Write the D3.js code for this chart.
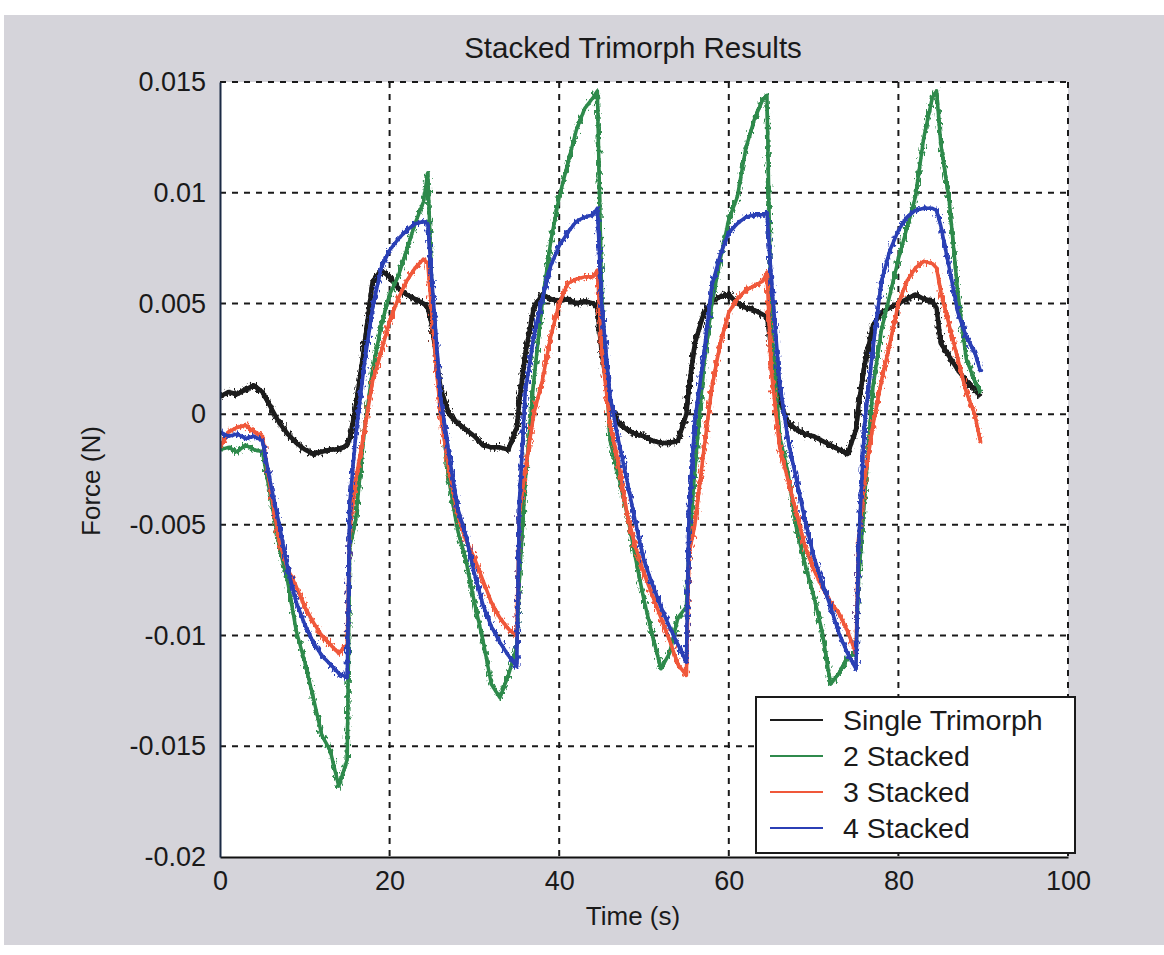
<!DOCTYPE html>
<html>
<head>
<meta charset="utf-8">
<script src="https://cdn.jsdelivr.net/npm/d3@7"></script>
<style>
  html, body { margin: 0; padding: 0; background: #ffffff; }
  svg { display: block; }
  text { font-family: "Liberation Sans", Arial, sans-serif; fill: #1a1a1a; }
</style>
</head>
<body>
<svg id="chart" width="1164" height="955"></svg>
<script>
// ---------------- data ----------------
const title = "Stacked Trimorph Results";
const xLabel = "Time (s)";
const yLabel = "Force (N)";
const xTicks = [0, 20, 40, 60, 80, 100];
const yTicks = [0.015, 0.01, 0.005, 0, -0.005, -0.01, -0.015, -0.02];
const yTickLabels = ["0.015", "0.01", "0.005", "0", "-0.005", "-0.01", "-0.015", "-0.02"];
const seriesNames = ["Single Trimorph", "2 Stacked", "3 Stacked", "4 Stacked"];

const times = [0,1,2,3,4,5,6,7,8,9,10,11,12,13,14,15,15.3,16,17,18,19,20,21,22,23,24,24.5,
  25,26,27,28,29,30,31,32,33,34,35,35.3,36,37,38,39,40,41,42,43,44,44.5,
  45,46,47,48,49,50,51,52,53,54,55,55.3,56,57,58,59,60,61,62,63,64,64.5,
  65,66,67,68,69,70,71,72,73,74,75,75.3,76,77,78,79,80,81,82,83,84,84.5,
  85,86,87,88,89,89.7];

const single = [0.0008,0.0010,0.0009,0.0011,0.0013,0.0010,0.0003,-0.0004,-0.0009,-0.0013,-0.0016,-0.0018,-0.0017,-0.0016,-0.0016,-0.0014,
  -0.0011,
  0.0003,0.0030,0.0060,0.0065,0.0062,0.0057,0.0054,0.0052,0.0050,
  0.0048,
  0.0040,0.0012,0.0000,-0.0004,-0.0007,-0.0010,-0.0014,-0.0015,-0.0015,-0.0016,-0.0006,
  0.0006,
  0.0027,0.0048,0.0054,0.0052,0.0051,0.0052,0.0050,0.0051,0.0050,
  0.0048,
  0.0028,0.0004,-0.0004,-0.0007,-0.0009,-0.0010,-0.0012,-0.0013,-0.0013,-0.0012,0.0000,
  0.0012,
  0.0032,0.0045,0.0051,0.0053,0.0054,0.0050,0.0048,0.0047,0.0045,
  0.0044,
  0.0030,0.0006,-0.0004,-0.0007,-0.0009,-0.0010,-0.0012,-0.0014,-0.0016,-0.0018,-0.0007,
  0.0004,
  0.0022,0.0040,0.0046,0.0048,0.0050,0.0052,0.0054,0.0052,0.0051,
  0.0048,
  0.0032,0.0026,0.0020,0.0015,0.0011,
  0.0008];

const stacked2 = [-0.0016,-0.0015,-0.0017,-0.0014,-0.0016,-0.0017,-0.0038,-0.0060,-0.0076,-0.0098,-0.0112,-0.0128,-0.0145,-0.0152,-0.0168,-0.0156,
  -0.0060,
  -0.0048,-0.0008,0.0020,0.0040,0.0054,0.0062,0.0074,0.0086,0.0096,
  0.0109,
  0.0055,0.0005,-0.0030,-0.0052,-0.0066,-0.0085,-0.0102,-0.0122,-0.0128,-0.0118,-0.0105,
  -0.0075,
  -0.0030,0.0015,0.0050,0.0078,0.0098,0.0113,0.0128,0.0138,0.0143,
  0.0146,
  0.0055,-0.0012,-0.0028,-0.0045,-0.0065,-0.0084,-0.0100,-0.0115,-0.0108,-0.0092,-0.0087,
  -0.0060,
  -0.0025,0.0020,0.0050,0.0070,0.0088,0.0098,0.0120,0.0133,0.0142,
  0.0144,
  0.0040,-0.0010,-0.0027,-0.0052,-0.0068,-0.0082,-0.0098,-0.0122,-0.0117,-0.0110,-0.0108,
  -0.0075,
  -0.0038,0.0012,0.0038,0.0054,0.0070,0.0084,0.0098,0.0125,0.0143,
  0.0146,
  0.0122,0.0096,0.0055,0.0025,0.0015,
  0.0010];

const stacked3 = [-0.0015,-0.0008,-0.0006,-0.0005,-0.0008,-0.0010,-0.0035,-0.0058,-0.0070,-0.0078,-0.0087,-0.0094,-0.0100,-0.0104,-0.0108,-0.0104,
  -0.0052,
  -0.0030,-0.0008,0.0015,0.0028,0.0042,0.0052,0.0060,0.0066,0.0070,
  0.0068,
  0.0045,0.0000,-0.0025,-0.0045,-0.0057,-0.0065,-0.0075,-0.0085,-0.0092,-0.0097,-0.0100,
  -0.0045,
  -0.0025,0.0000,0.0015,0.0035,0.0050,0.0059,0.0061,0.0062,0.0062,
  0.0065,
  0.0030,-0.0005,-0.0022,-0.0045,-0.0060,-0.0072,-0.0082,-0.0092,-0.0102,-0.0113,-0.0118,
  -0.0063,
  -0.0050,-0.0018,0.0012,0.0032,0.0046,0.0052,0.0056,0.0058,0.0060,
  0.0064,
  0.0020,-0.0015,-0.0030,-0.0045,-0.0060,-0.0070,-0.0078,-0.0085,-0.0090,-0.0098,-0.0108,
  -0.0057,
  -0.0030,-0.0005,0.0015,0.0032,0.0050,0.0060,0.0066,0.0069,0.0068,
  0.0066,
  0.0055,0.0040,0.0025,0.0010,0.0000,
  -0.0013];

const stacked4 = [-0.0008,-0.0010,-0.0009,-0.0011,-0.0010,-0.0012,-0.0032,-0.0050,-0.0070,-0.0085,-0.0095,-0.0103,-0.0109,-0.0113,-0.0117,-0.0119,
  -0.0040,
  -0.0010,0.0022,0.0048,0.0066,0.0074,0.0079,0.0083,0.0086,0.0087,
  0.0086,
  0.0060,0.0008,-0.0018,-0.0042,-0.0055,-0.0072,-0.0086,-0.0096,-0.0103,-0.0109,-0.0114,
  -0.0040,
  0.0010,0.0035,0.0052,0.0067,0.0076,0.0082,0.0087,0.0089,0.0090,
  0.0093,
  0.0050,0.0008,-0.0012,-0.0030,-0.0049,-0.0066,-0.0077,-0.0087,-0.0096,-0.0104,-0.0112,
  -0.0045,
  -0.0003,0.0025,0.0058,0.0072,0.0082,0.0086,0.0089,0.0090,0.0090,
  0.0091,
  0.0062,0.0014,-0.0012,-0.0030,-0.0048,-0.0064,-0.0076,-0.0087,-0.0099,-0.0108,-0.0115,
  -0.0060,
  -0.0005,0.0030,0.0060,0.0074,0.0083,0.0089,0.0092,0.0093,0.0093,
  0.0092,
  0.0085,0.0066,0.0046,0.0035,0.0028,
  0.0019];

const seriesValues = [single, stacked2, stacked3, stacked4];
const seriesColors = ["#1c1c1c", "#2f8a4c", "#f0583a", "#2b3fb5"];

// ---------------- layout ----------------
const W = 1164, H = 955;
const plot = { left: 220, right: 1068, top: 82, bottom: 857 };

const svg = d3.select("#chart");
const defs = svg.append("defs");

// page and figure background
svg.append("rect").attr("x", 0).attr("y", 0).attr("width", W).attr("height", H).attr("fill", "#ffffff");
svg.append("rect").attr("x", 4).attr("y", 15).attr("width", W - 4).attr("height", 930).attr("fill", "#d5d4da");

const x = d3.scaleLinear().domain([0, 100]).range([plot.left, plot.right]);
const y = d3.scaleLinear().domain([-0.02, 0.015]).range([plot.bottom, plot.top]);

// axes background
svg.append("rect")
  .attr("x", plot.left).attr("y", plot.top)
  .attr("width", plot.right - plot.left).attr("height", plot.bottom - plot.top)
  .attr("fill", "#ffffff");

// grid
const dash = "6,6";
const grid = svg.append("g").attr("stroke", "#1a1a1a").attr("stroke-width", 2).attr("stroke-dasharray", dash);
grid.selectAll("line.vx").data(xTicks.slice(1)).join("line")
  .attr("x1", d => x(d)).attr("x2", d => x(d))
  .attr("y1", plot.top).attr("y2", plot.bottom);
grid.selectAll("line.hy").data(yTicks.slice(0, -1)).join("line")
  .attr("x1", plot.left).attr("x2", plot.right)
  .attr("y1", d => y(d)).attr("y2", d => y(d));

// clip + measurement-noise texture filter (visual only)
defs.append("clipPath").attr("id", "clip")
  .append("rect").attr("x", plot.left).attr("y", plot.top)
  .attr("width", plot.right - plot.left).attr("height", plot.bottom - plot.top);
const flt = defs.append("filter").attr("id", "jag")
  .attr("filterUnits", "userSpaceOnUse")
  .attr("x", plot.left - 20).attr("y", plot.top - 20)
  .attr("width", plot.right - plot.left + 40).attr("height", plot.bottom - plot.top + 40);
flt.append("feTurbulence").attr("type", "fractalNoise").attr("baseFrequency", "0.5 0.2")
  .attr("numOctaves", 2).attr("seed", 7).attr("result", "t");
flt.append("feDisplacementMap").attr("in", "SourceGraphic").attr("in2", "t")
  .attr("scale", 10).attr("xChannelSelector", "R").attr("yChannelSelector", "G").attr("result", "d");
const mg = flt.append("feMerge");
mg.append("feMergeNode").attr("in", "d");
mg.append("feMergeNode").attr("in", "SourceGraphic");

const line = d3.line()
  .x((d, i) => x(times[i]))
  .y(d => y(d))
  .curve(d3.curveLinear);

const lines = svg.append("g").attr("clip-path", "url(#clip)");
seriesValues.forEach((vals, k) => {
  lines.append("path")
    .datum(vals)
    .attr("fill", "none")
    .attr("stroke", seriesColors[k])
    .attr("stroke-width", k === 0 ? 4.5 : 3.5)
    .attr("stroke-linejoin", "round")
    .attr("filter", "url(#jag)")
    .attr("d", line);
});

// axis lines (left + bottom solid)
const xAxis = d3.axisBottom(x).tickValues(xTicks).tickSize(0).tickPadding(14).tickFormat(d3.format("d"));
const gx = svg.append("g").attr("transform", `translate(0,${plot.bottom})`).call(xAxis);
gx.select(".domain").attr("stroke", "#111").attr("stroke-width", 2);
gx.selectAll("text").attr("font-size", 27).attr("fill", "#1a1a1a").attr("font-family", "Liberation Sans, Arial, sans-serif");

const yAxis = d3.axisLeft(y).tickValues(yTicks).tickSize(0).tickPadding(14)
  .tickFormat((d, i) => yTickLabels[i]);
const gy = svg.append("g").attr("transform", `translate(${plot.left},0)`).call(yAxis);
gy.select(".domain").attr("stroke", "#1b2a44").attr("stroke-width", 2);
gy.selectAll("text").attr("font-size", 27).attr("fill", "#1a1a1a").attr("font-family", "Liberation Sans, Arial, sans-serif");

// title and axis labels
svg.append("text").attr("x", 633).attr("y", 58).attr("text-anchor", "middle")
  .attr("font-size", 29.5).text(title);
svg.append("text").attr("x", 633).attr("y", 925).attr("text-anchor", "middle")
  .attr("font-size", 26).text(xLabel);
svg.append("text").attr("transform", "translate(100,481) rotate(-90)").attr("text-anchor", "middle")
  .attr("font-size", 26).text(yLabel);

// legend
const leg = { x: 756, y: 697, w: 319, h: 156 };
svg.append("rect").attr("x", leg.x).attr("y", leg.y).attr("width", leg.w).attr("height", leg.h)
  .attr("fill", "#ffffff").attr("stroke", "#1a1a1a").attr("stroke-width", 2);
seriesNames.forEach((name, k) => {
  const cy = leg.y + 23 + k * 36;
  svg.append("line").attr("x1", leg.x + 14).attr("x2", leg.x + 67)
    .attr("y1", cy).attr("y2", cy)
    .attr("stroke", seriesColors[k]).attr("stroke-width", 2);
  svg.append("text").attr("x", leg.x + 87).attr("y", cy + 10)
    .attr("font-size", 28.5).text(name);
});
</script>
</body>
</html>
